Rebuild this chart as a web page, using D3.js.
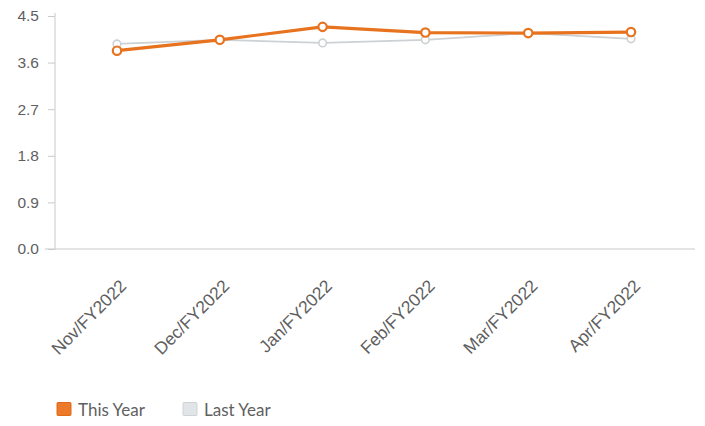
<!DOCTYPE html>
<html>
<head>
<meta charset="utf-8">
<script src="https://cdn.jsdelivr.net/npm/d3@7/dist/d3.min.js"></script>
<style>
  html, body { margin: 0; padding: 0; background: #fff; }
  svg { display: block; }
</style>
</head>
<body>
<svg id="chart" width="705" height="426"></svg>
<script>
// Monthly score, this year vs last year
const months = ["Nov/FY2022", "Dec/FY2022", "Jan/FY2022", "Feb/FY2022", "Mar/FY2022", "Apr/FY2022"];
const thisYear = [3.83, 4.04, 4.29, 4.18, 4.17, 4.19];
const lastYear = [3.96, 4.04, 3.98, 4.04, 4.17, 4.06];
const yTicks = [0.0, 0.9, 1.8, 2.7, 3.6, 4.5];
const seriesNames = ["This Year", "Last Year"];

const svg = d3.select("#chart");
const plotLeft = 55, plotRight = 695, plotTop = 16, plotBottom = 249;

const x = d3.scalePoint().domain(months).range([117, 631]);
const y = d3.scaleLinear().domain([0, 4.5]).range([plotBottom, plotTop]);

const axisColor = "#c9c9c9";
const textColor = "#5f5f5f";

// y axis
const yAxis = svg.append("g")
  .attr("transform", `translate(${plotLeft},0)`)
  .call(d3.axisLeft(y).tickValues(yTicks).tickFormat(d3.format(".1f")).tickSize(7).tickPadding(9));
yAxis.select(".domain").attr("stroke", axisColor).attr("d", `M0,${plotTop - 3}V${plotBottom}`);
yAxis.selectAll(".tick line").attr("stroke", axisColor);
yAxis.selectAll(".tick text")
  .attr("fill", textColor)
  .style("font-family", "'Liberation Sans', Arial, sans-serif")
  .style("font-size", "15.5px");

// x axis baseline
const xAxis = svg.append("g")
  .attr("transform", `translate(0,${plotBottom})`)
  .call(d3.axisBottom(x).tickSize(0).tickPadding(0));
xAxis.select(".domain").attr("stroke", axisColor).attr("d", `M${plotLeft - 10},0H${plotRight}`);
xAxis.selectAll(".tick text")
  .attr("fill", textColor)
  .style("font-family", "'Liberation Sans', Arial, sans-serif")
  .style("font-size", "17.5px")
  .attr("text-anchor", "end")
  .attr("dy", null)
  .attr("transform", "translate(10,38) rotate(-45)");

const line = d3.line().x((d, i) => x(months[i])).y(d => y(d));

const series = [
  { name: seriesNames[1], values: lastYear, color: "#cdd1d4", width: 1.8, r: 3.8, sw: 1.6 },
  { name: seriesNames[0], values: thisYear, color: "#e8731f", width: 3.2, r: 4.2, sw: 2.2 }
];

series.forEach(s => {
  svg.append("path")
    .datum(s.values)
    .attr("fill", "none")
    .attr("stroke", s.color)
    .attr("stroke-width", s.width)
    .attr("stroke-linejoin", "round")
    .attr("d", line);
  svg.append("g").selectAll("circle")
    .data(s.values)
    .join("circle")
    .attr("cx", (d, i) => x(months[i]))
    .attr("cy", d => y(d))
    .attr("r", s.r)
    .attr("fill", "#fff")
    .attr("stroke", s.color)
    .attr("stroke-width", s.sw);
});

// legend
const legendItems = [
  { name: seriesNames[0], color: "#ec7a2a", stroke: "#e06a18", x: 57 },
  { name: seriesNames[1], color: "#e2e5e7", stroke: "#cfd3d6", x: 183 }
];
const legend = svg.append("g");
legendItems.forEach(it => {
  legend.append("rect")
    .attr("x", it.x).attr("y", 402.5)
    .attr("width", 14).attr("height", 13)
    .attr("rx", 1)
    .attr("fill", it.color).attr("stroke", it.stroke).attr("stroke-width", 1);
  legend.append("text")
    .attr("x", it.x + 21).attr("y", 416)
    .attr("fill", textColor)
    .style("font-family", "Lato, 'Open Sans', sans-serif")
    .style("font-size", "17px")
    .text(it.name);
});
</script>
</body>
</html>
